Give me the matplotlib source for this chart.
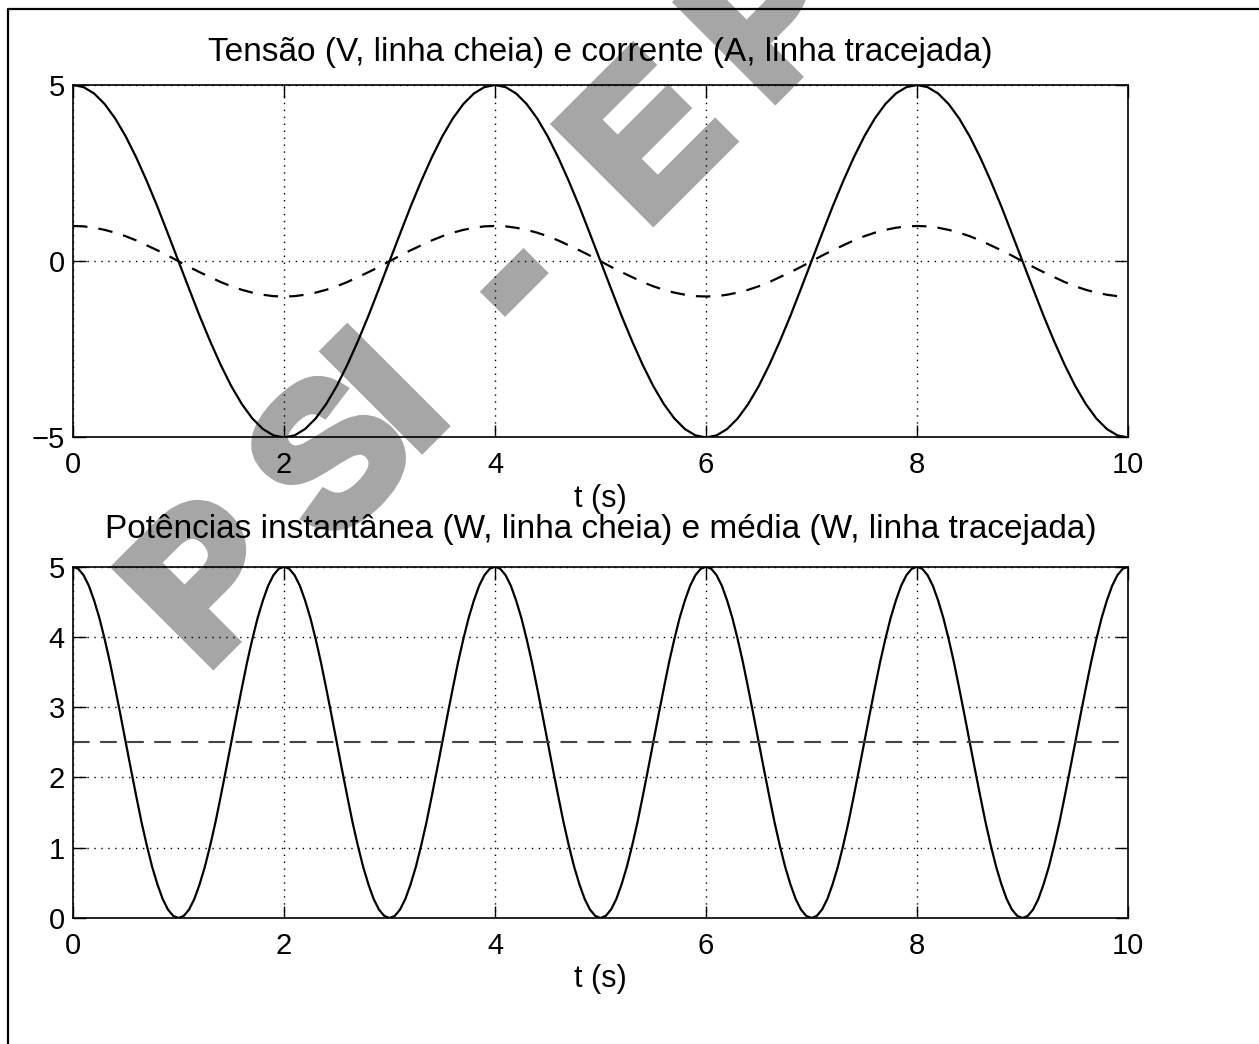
import numpy as np
import matplotlib.pyplot as plt
import matplotlib.patheffects as pe
from matplotlib.lines import Line2D

plt.rcParams['font.family'] = ['Liberation Sans', 'DejaVu Sans']

# sample times (s)
t = np.linspace(0, 10, 101)       # every 0.1 s
t_pot = np.linspace(0, 10, 201)   # every 0.05 s

# voltage (V)
tensao = [5.00, 4.94, 4.76, 4.46, 4.05, 3.54, 2.94, 2.27, 1.55, 0.78, 0.00,
          -0.78, -1.55, -2.27, -2.94, -3.54, -4.05, -4.46, -4.76, -4.94, -5.00,
          -4.94, -4.76, -4.46, -4.05, -3.54, -2.94, -2.27, -1.55, -0.78, 0.00,
          0.78, 1.55, 2.27, 2.94, 3.54, 4.05, 4.46, 4.76, 4.94, 5.00,
          4.94, 4.76, 4.46, 4.05, 3.54, 2.94, 2.27, 1.55, 0.78, 0.00,
          -0.78, -1.55, -2.27, -2.94, -3.54, -4.05, -4.46, -4.76, -4.94, -5.00,
          -4.94, -4.76, -4.46, -4.05, -3.54, -2.94, -2.27, -1.55, -0.78, 0.00,
          0.78, 1.55, 2.27, 2.94, 3.54, 4.05, 4.46, 4.76, 4.94, 5.00,
          4.94, 4.76, 4.46, 4.05, 3.54, 2.94, 2.27, 1.55, 0.78, 0.00,
          -0.78, -1.55, -2.27, -2.94, -3.54, -4.05, -4.46, -4.76, -4.94, -5.00]

# current (A), dashed curve in the upper plot
corrente = [1.00, 0.99, 0.95, 0.89, 0.81, 0.71, 0.59, 0.45, 0.31, 0.16, 0.00,
            -0.16, -0.31, -0.45, -0.59, -0.71, -0.81, -0.89, -0.95, -0.99, -1.00,
            -0.99, -0.95, -0.89, -0.81, -0.71, -0.59, -0.45, -0.31, -0.16, 0.00,
            0.16, 0.31, 0.45, 0.59, 0.71, 0.81, 0.89, 0.95, 0.99, 1.00,
            0.99, 0.95, 0.89, 0.81, 0.71, 0.59, 0.45, 0.31, 0.16, 0.00,
            -0.16, -0.31, -0.45, -0.59, -0.71, -0.81, -0.89, -0.95, -0.99, -1.00,
            -0.99, -0.95, -0.89, -0.81, -0.71, -0.59, -0.45, -0.31, -0.16, 0.00,
            0.16, 0.31, 0.45, 0.59, 0.71, 0.81, 0.89, 0.95, 0.99, 1.00,
            0.99, 0.95, 0.89, 0.81, 0.71, 0.59, 0.45, 0.31, 0.16, 0.00,
            -0.16, -0.31, -0.45, -0.59, -0.71, -0.81, -0.89, -0.95, -0.99, -1.00]

# instantaneous power (W), lower plot
potencia = [5.00,
            4.97, 4.88, 4.73, 4.52, 4.27, 3.97, 3.64, 3.27, 2.89, 2.50,
            2.11, 1.73, 1.36, 1.03, 0.73, 0.48, 0.27, 0.12, 0.03, 0.00,
            0.03, 0.12, 0.27, 0.48, 0.73, 1.03, 1.36, 1.73, 2.11, 2.50,
            2.89, 3.27, 3.64, 3.97, 4.27, 4.52, 4.73, 4.88, 4.97, 5.00,
            4.97, 4.88, 4.73, 4.52, 4.27, 3.97, 3.64, 3.27, 2.89, 2.50,
            2.11, 1.73, 1.36, 1.03, 0.73, 0.48, 0.27, 0.12, 0.03, 0.00,
            0.03, 0.12, 0.27, 0.48, 0.73, 1.03, 1.36, 1.73, 2.11, 2.50,
            2.89, 3.27, 3.64, 3.97, 4.27, 4.52, 4.73, 4.88, 4.97, 5.00,
            4.97, 4.88, 4.73, 4.52, 4.27, 3.97, 3.64, 3.27, 2.89, 2.50,
            2.11, 1.73, 1.36, 1.03, 0.73, 0.48, 0.27, 0.12, 0.03, 0.00,
            0.03, 0.12, 0.27, 0.48, 0.73, 1.03, 1.36, 1.73, 2.11, 2.50,
            2.89, 3.27, 3.64, 3.97, 4.27, 4.52, 4.73, 4.88, 4.97, 5.00,
            4.97, 4.88, 4.73, 4.52, 4.27, 3.97, 3.64, 3.27, 2.89, 2.50,
            2.11, 1.73, 1.36, 1.03, 0.73, 0.48, 0.27, 0.12, 0.03, 0.00,
            0.03, 0.12, 0.27, 0.48, 0.73, 1.03, 1.36, 1.73, 2.11, 2.50,
            2.89, 3.27, 3.64, 3.97, 4.27, 4.52, 4.73, 4.88, 4.97, 5.00,
            4.97, 4.88, 4.73, 4.52, 4.27, 3.97, 3.64, 3.27, 2.89, 2.50,
            2.11, 1.73, 1.36, 1.03, 0.73, 0.48, 0.27, 0.12, 0.03, 0.00,
            0.03, 0.12, 0.27, 0.48, 0.73, 1.03, 1.36, 1.73, 2.11, 2.50,
            2.89, 3.27, 3.64, 3.97, 4.27, 4.52, 4.73, 4.88, 4.97, 5.00]

# average power (W)
t_media = [0, 10]
pot_media = [2.5, 2.5]

xticks = [0, 2, 4, 6, 8, 10]
yticks1 = [-5, 0, 5]
yticks2 = [0, 1, 2, 3, 4, 5]

titulo1 = "Tensão (V, linha cheia) e corrente (A, linha tracejada)"
titulo2 = "Potências instantânea (W, linha cheia) e média (W, linha tracejada)"

# watermark letters and their baseline anchors (pixels from top-left)
marca = ["P", "S", "I", "-", "E", "P", "U"]
marca_pos = [(250, 625), (375, 500), (432, 436), (550, 318),
             (690, 182), (812, 60), (940, -66)]

W, H = 1259, 1044
fig = plt.figure(figsize=(W / 100, H / 100), dpi=100)

cinza = '#a6a6a6'
for letra, (px, py) in zip(marca, marca_pos):
    fig.text(px / W, 1 - py / H, letra, rotation=45, rotation_mode='anchor',
             ha='center', va='baseline', fontsize=140, fontweight='bold',
             color=cinza, zorder=-5,
             path_effects=[pe.withStroke(linewidth=9, foreground=cinza,
                                         joinstyle='miter')])

# figure frame (top and left edges)
fig.add_artist(Line2D([8 / W, 8 / W, 1.0], [0.0, 1 - 9 / H, 1 - 9 / H],
                      color='black', lw=1.6))

left = 73 / W
width = 1055 / W
ax1 = fig.add_axes([left, 1 - 437.5 / H, width, 352.5 / H])
ax2 = fig.add_axes([left, 1 - 918 / H, width, 351.3 / H])

fs = 21
grid_kw = dict(color='black', linestyle=(0, (1, 4)), linewidth=1.0)

ax1.plot(t, tensao, color='black', lw=1.6)
ax1.plot(t, corrente, color='black', lw=1.6, linestyle=(0, (6.5, 5)))
ax1.set_ylim(-5, 5)
ax1.set_yticks(yticks1)

ax2.plot(t_pot, potencia, color='black', lw=1.6)
ax2.plot(t_media, pot_media, color='#444444', lw=1.5, linestyle=(0, (8, 5)))
ax2.set_ylim(0, 5)
ax2.set_yticks(yticks2)

for ax, titulo, tpad in ((ax1, titulo1, 17), (ax2, titulo2, 21)):
    ax.set_facecolor('none')
    ax.set_xlim(0, 10)
    ax.set_xticks(xticks)
    ax.grid(True, **grid_kw)
    ax.tick_params(direction='in', length=9, width=1, top=True, right=True,
                   labelsize=fs, pad=6)
    ax.tick_params(axis='x', pad=10)
    for s in ax.spines.values():
        s.set_linewidth(1.2)
    ax.set_xlabel("t (s)", fontsize=22, labelpad=3)
    ax.set_title(titulo, fontsize=24, pad=tpad)

fig.savefig("out.png", dpi=100)
